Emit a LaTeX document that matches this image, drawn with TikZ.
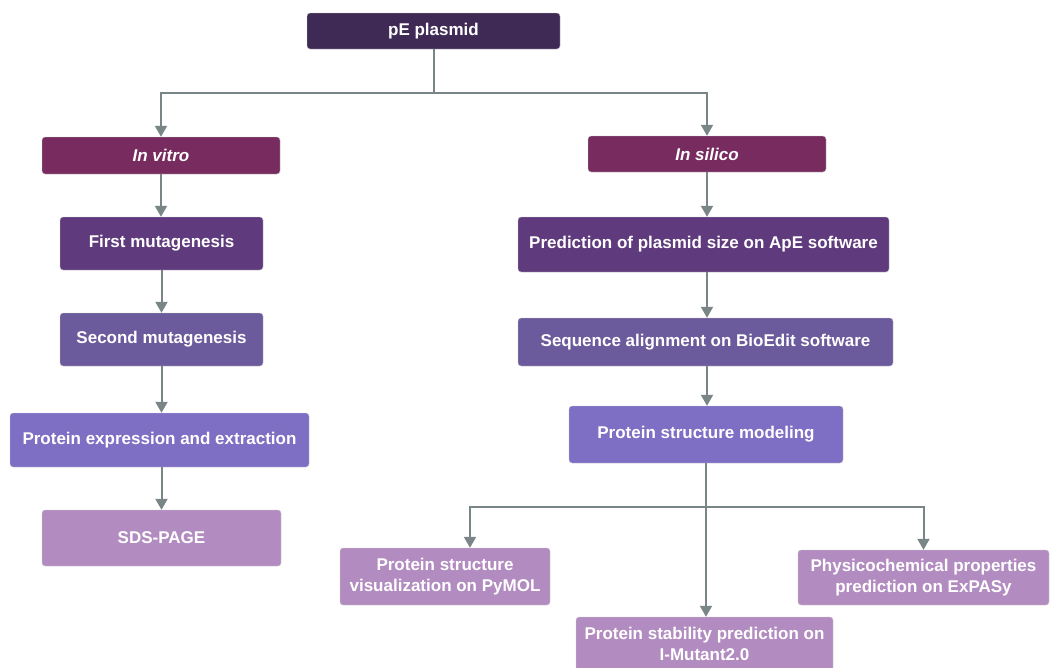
\documentclass[tikz,border=0pt]{standalone}
\usepackage{fontspec}
\setmainfont{Liberation Sans}
\usetikzlibrary{arrows.meta}
\definecolor{cTop}{HTML}{3F2A56}
\definecolor{cMag}{HTML}{772B5E}
\definecolor{cP1}{HTML}{5F3A7D}
\definecolor{cP2}{HTML}{6B5A9C}
\definecolor{cP3}{HTML}{7E6EC4}
\definecolor{cP4}{HTML}{B28CC0}
\definecolor{cArr}{HTML}{7A8587}
\tikzset{
  box/.style={rectangle, rounded corners=3pt, text=white, font=\bfseries\fontsize{17}{21}\selectfont, align=center, inner sep=0pt, draw=white!80!black, line width=0.4pt},
  arr/.style={draw=cArr, line width=2pt, -{Triangle[length=11pt,width=12pt]}},
  ln/.style={draw=cArr, line width=2pt},
}
\begin{document}
\begin{tikzpicture}[x=1pt,y=-1pt]
\useasboundingbox[fill=white] (0,0) rectangle (1050,667);
% top
\node[box, fill=cTop, minimum width=253pt, minimum height=36pt] (pe) at (433.5,31) {pE plasmid};
\node[box, fill=cMag, minimum width=238pt, minimum height=37pt] (vitro) at (161,155.5) {\itshape In vitro};
\node[box, fill=cMag, minimum width=238pt, minimum height=36pt] (silico) at (707,154) {\itshape In silico};
% left column
\node[box, fill=cP1, minimum width=203pt, minimum height=53pt] (m1) at (161.5,243.5) {First mutagenesis};
\node[box, fill=cP2, minimum width=203pt, minimum height=53pt] (m2) at (161.5,339.5) {Second mutagenesis};
\node[box, fill=cP3, minimum width=299pt, minimum height=54pt] (pexp) at (159.5,440) {Protein expression and extraction};
\node[box, fill=cP4, minimum width=239pt, minimum height=56pt] (sds) at (161.5,538) {SDS-PAGE};
% right column
\node[box, fill=cP1, minimum width=371pt, minimum height=55pt] (ape) at (703.5,244.5) {Prediction of plasmid size on ApE software};
\node[box, fill=cP2, minimum width=375pt, minimum height=48pt] (bio) at (705.5,342) {Sequence alignment on BioEdit software};
\node[box, fill=cP3, minimum width=274pt, minimum height=57pt] (model) at (706,434.5) {Protein structure modeling};
% bottom
\node[box, fill=cP4, minimum width=210pt, minimum height=57pt] (pymol) at (445,576.5) {Protein structure\\visualization on PyMOL};
\node[box, fill=cP4, minimum width=251pt, minimum height=55pt] (expasy) at (923.5,577.5) {Physicochemical properties\\prediction on ExPASy};
\node[box, fill=cP4, minimum width=257pt, minimum height=54pt] (imut) at (704.5,644) {Protein stability prediction on\\I-Mutant2.0};
% connectors
\coordinate (j1) at (433.5,93);
\draw[ln] (pe.south) -- (j1);
\draw[arr] (j1) -| (vitro.north);
\draw[arr] (j1) -| (silico.north);
\draw[arr] (vitro.south) -- (m1.north -| vitro.south);
\draw[arr] (m1.south) -- (m2.north);
\draw[arr] (m2.south) -- (pexp.north -| m2.south);
\draw[arr] (pexp.south -| m2.south) -- (sds.north);
\draw[arr] (silico.south) -- (ape.north -| silico.south);
\draw[arr] (ape.south -| silico.south) -- (bio.north -| silico.south);
\draw[arr] (bio.south -| silico.south) -- (model.north -| silico.south);
\coordinate (j2) at (706,507);
\draw[ln] (model.south) -- (j2);
\draw[arr] (j2) -| (pymol.north -| 470,0);
\draw[arr] (j2) -| (expasy.north);
\draw[arr] (j2) -- (imut.north -| j2);
\end{tikzpicture}
\end{document}
